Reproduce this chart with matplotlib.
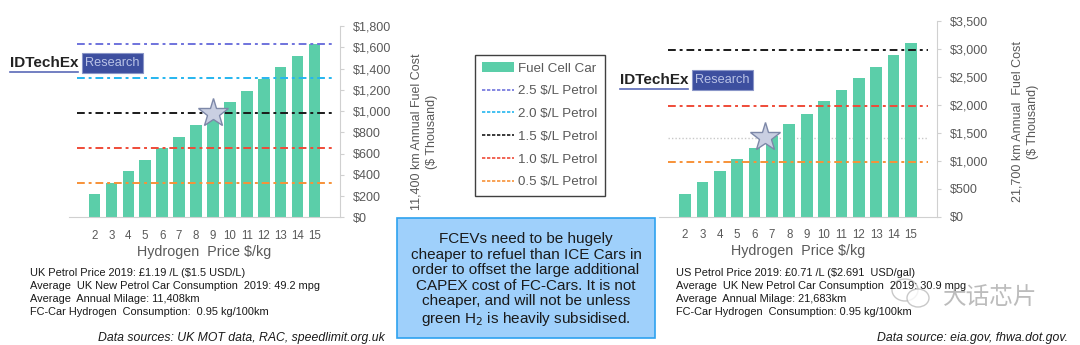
import numpy as np
import matplotlib.pyplot as plt
from matplotlib.patches import Rectangle, Ellipse
from matplotlib.lines import Line2D
from matplotlib.patches import Patch

plt.rcParams['font.family'] = ['Liberation Sans', 'DejaVu Sans']

# data
h2_price = [2, 3, 4, 5, 6, 7, 8, 9, 10, 11, 12, 13, 14, 15]
uk_cost = [217, 325, 434, 541, 651, 760, 868, 977, 1085, 1193, 1302, 1411, 1520, 1630]
us_cost = [405, 620, 810, 1030, 1232, 1440, 1655, 1840, 2060, 2265, 2470, 2670, 2880, 3095]

petrol_labels = ['2.5 $/L Petrol', '2.0 $/L Petrol', '1.5 $/L Petrol', '1.0 $/L Petrol', '0.5 $/L Petrol']
petrol_colors = ['#6f73dd', '#25b6ef', '#1a1a1a', '#ef4b38', '#f79238']
uk_petrol_cost = [1635, 1308, 980, 653, 326]
us_petrol_cost = [None, None, 2970, 1985, 980]

uk_star = (9, 985)
us_star = (6.6, 1415)

uk_yticks = np.arange(0, 1801, 200)
us_yticks = np.arange(0, 3501, 500)

W, H = 1080, 345
fig = plt.figure(figsize=(W / 100, H / 100), dpi=100)

bar_col = '#5bcea9'
grey = '#595959'


def px(x0, y_top, x1, y_bot):
    return [x0 / W, 1 - y_bot / H, (x1 - x0) / W, (y_bot - y_top) / H]


def setup(ax, ticks, top):
    ax.set_xlim(0.5, 16.5)
    ax.set_ylim(0, top)
    for s in ['top', 'left']:
        ax.spines[s].set_visible(False)
    ax.spines['right'].set_color('#d0d0d0')
    ax.spines['bottom'].set_color('#d0d0d0')
    ax.yaxis.tick_right()
    ax.set_yticks(ticks)
    ax.set_yticklabels(['${:,}'.format(int(t)) for t in ticks])
    ax.tick_params(axis='y', colors='#d0d0d0', labelcolor=grey, labelsize=9, length=3, pad=6)
    ax.set_xticks(h2_price)
    ax.set_xticklabels([str(p) for p in h2_price])
    ax.tick_params(axis='x', length=0, labelcolor=grey, labelsize=8.3, pad=9)
    ax.set_xlabel('Hydrogen  Price $/kg', color=grey, fontsize=10.3, labelpad=2)


# left chart (UK)
ax1 = fig.add_axes(px(69, 26, 340, 217.3))
setup(ax1, uk_yticks, 1800)
ax1.bar(h2_price, uk_cost, width=0.68, color=bar_col, zorder=2)
for y, c in zip(uk_petrol_cost, petrol_colors):
    ax1.hlines(y, 1, 16, colors=c, linestyles=(0, (4, 2, 1.5, 2)), linewidth=1.4, zorder=3)
ax1.plot(*uk_star, marker='*', markersize=22, markerfacecolor='#c9cfe2',
         markeredgecolor='#7d88a8', markeredgewidth=1, zorder=4)

# right chart (US)
ax2 = fig.add_axes(px(659, 20.7, 937, 216.7))
setup(ax2, us_yticks, 3500)
ax2.bar(h2_price, us_cost, width=0.68, color=bar_col, zorder=2)
ax2.hlines(us_star[1] - 5, 1, 16, colors='#c8c8c8', linestyles=(0, (1, 1.5)), linewidth=1, zorder=1)
for y, c in zip(us_petrol_cost, petrol_colors):
    if y is None:
        continue
    ax2.hlines(y, 1, 16, colors=c, linestyles=(0, (4, 2, 1.5, 2)), linewidth=1.4, zorder=3)
ax2.plot(*us_star, marker='*', markersize=22, markerfacecolor='#c9cfe2',
         markeredgecolor='#7d88a8', markeredgewidth=1, zorder=4)

# y labels
fig.text(424 / W, 1 - 132 / H, '11,400 km Annual Fuel Cost\n($ Thousand)', rotation=90,
         ha='center', va='center', color=grey, fontsize=9, linespacing=1.4)
fig.text(1025 / W, 1 - 122 / H, '21,700 km Annual  Fuel Cost\n($ Thousand)', rotation=90,
         ha='center', va='center', color=grey, fontsize=9, linespacing=1.4)

# legend
handles = [Patch(facecolor=bar_col, edgecolor='none')]
for c in petrol_colors:
    handles.append(Line2D([], [], color=c, linestyle=(0, (2, 1)), linewidth=1.2))
leg = fig.legend(handles, ['Fuel Cell Car'] + petrol_labels, loc='upper left',
                 bbox_to_anchor=(475 / W, 1 - 55 / H), borderaxespad=0, fontsize=9.6,
                 labelspacing=0.78, handlelength=2.4, handletextpad=0.3, borderpad=0.55,
                 fancybox=False, edgecolor='#404040', framealpha=1)
leg.get_frame().set_linewidth(1.0)
for t in leg.get_texts():
    t.set_color(grey)

# callout box
fig.patches.append(Rectangle((397 / W, 1 - 338 / H), (655 - 397) / W, (338 - 218) / H,
                             transform=fig.transFigure, facecolor='#9fd0fb',
                             edgecolor='#2ea2ef', linewidth=1.2))
fig.text(526 / W, 1 - 280 / H,
         'FCEVs need to be hugely\ncheaper to refuel than ICE Cars in\n'
         'order to offset the large additional\nCAPEX cost of FC-Cars. It is not\n'
         'cheaper, and will not be unless\ngreen H$_2$ is heavily subsidised.',
         ha='center', va='center', fontsize=11, linespacing=1.13, color='#1a1a1a')


# logos
def logo(x0, yc):
    fig.text(x0 / W, 1 - yc / H, 'IDTechEx', fontsize=11, fontweight='bold',
             ha='left', va='center', color='#222222')
    fig.lines.append(Line2D([x0 / W, (x0 + 68) / W], [1 - (yc + 9) / H] * 2,
                            transform=fig.transFigure, color='#5a6ab8', linewidth=1.2))
    fig.patches.append(Rectangle(((x0 + 72) / W, 1 - (yc + 10) / H), 61 / W, 20 / H,
                                 transform=fig.transFigure, facecolor='#3d4f9f',
                                 edgecolor='#8a96c8', linewidth=0.8))
    fig.text((x0 + 102.5) / W, 1 - yc / H, 'Research', fontsize=9.2, ha='center',
             va='center', color='#b9c2e6')


logo(10, 63)
logo(620, 80)

# notes under charts
uk_notes = ['UK Petrol Price 2019: \u00a31.19 /L ($1.5 USD/L)',
            'Average  UK New Petrol Car Consumption  2019: 49.2 mpg',
            'Average  Annual Milage: 11,408km',
            'FC-Car Hydrogen  Consumption:  0.95 kg/100km']
us_notes = ['US Petrol Price 2019: \u00a30.71 /L ($2.691  USD/gal)',
            'Average  UK New Petrol Car Consumption  2019: 30.9 mpg',
            'Average  Annual Milage: 21,683km',
            'FC-Car Hydrogen  Consumption: 0.95 kg/100km']
for i, s in enumerate(uk_notes):
    fig.text(30 / W, 1 - (273 + 13 * i) / H, s, fontsize=7.9, va='center', color='#1a1a1a')
for i, s in enumerate(us_notes):
    fig.text(676 / W, 1 - (273 + 13 * i) / H, s, fontsize=7.9, va='center', color='#1a1a1a')
fig.text(385 / W, 1 - 338 / H, 'Data sources: UK MOT data, RAC, speedlimit.org.uk',
         fontsize=8.8, style='italic', ha='right', va='center', color='#1a1a1a')
fig.text(1068 / W, 1 - 338 / H, 'Data source: eia.gov, fhwa.dot.gov.',
         fontsize=8.8, style='italic', ha='right', va='center', color='#1a1a1a')

# watermark
fig.patches.append(Ellipse((905 / W, 1 - 290 / H), 26 / W, 22 / H, transform=fig.transFigure,
                           facecolor='none', edgecolor='#bbbbbb', linewidth=1, alpha=0.8))
fig.patches.append(Ellipse((918 / W, 1 - 298 / H), 22 / W, 18 / H, transform=fig.transFigure,
                           facecolor='white', edgecolor='#bbbbbb', linewidth=1, alpha=0.8))
fig.text(990 / W, 1 - 297 / H, '大话芯片', family=['Noto Sans CJK SC', 'DejaVu Sans'],
         fontsize=17, ha='center', va='center', color='#a0a0a0', alpha=0.7)

fig.savefig('out.png', dpi=100)
